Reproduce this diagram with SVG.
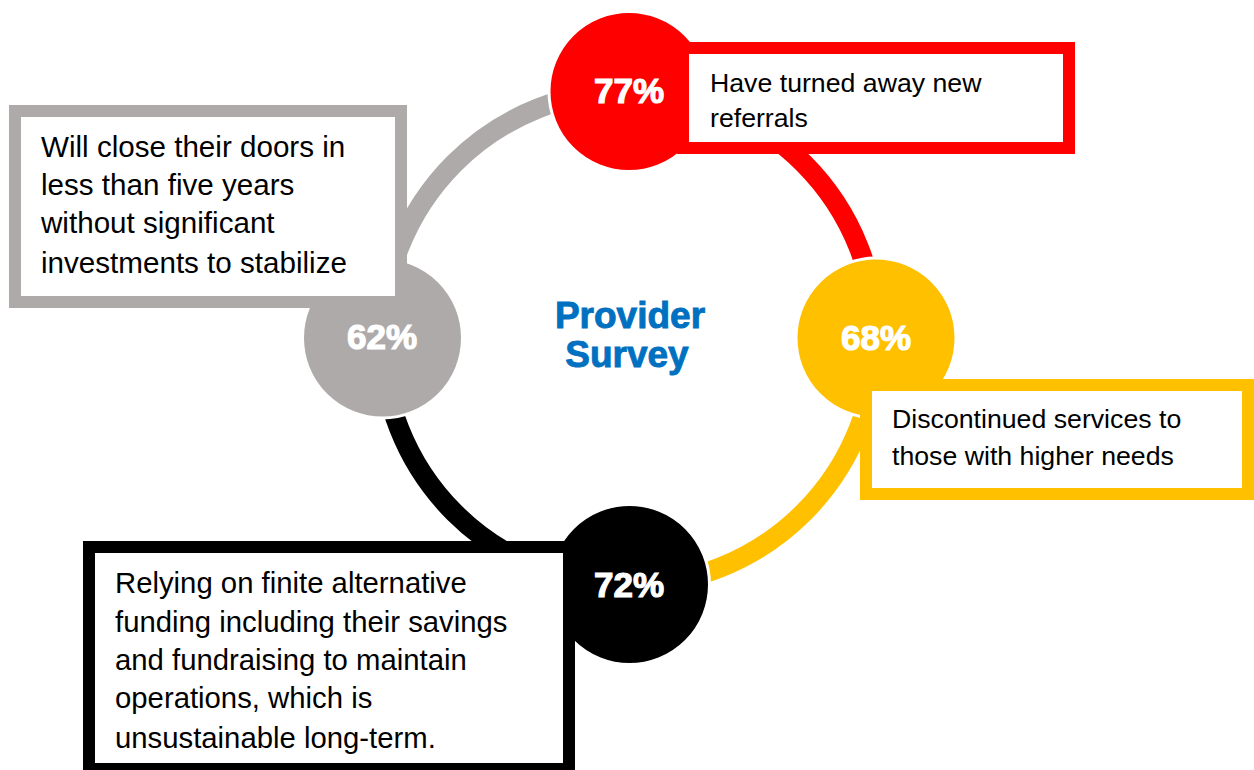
<svg xmlns="http://www.w3.org/2000/svg" width="1254" height="770" viewBox="0 0 1254 770">
<style>
.arc{fill:none;stroke-width:20}
.dot{stroke:#ffffff;stroke-width:3}
.box{fill:#ffffff;stroke-width:12}
.pct{font-family:"Liberation Sans",Arial,sans-serif;font-weight:bold;font-size:35px;fill:#ffffff;stroke:#ffffff;stroke-width:1.2;text-anchor:middle}
.lbl{font-family:"Liberation Sans",Arial,sans-serif;fill:#000000}
.title{font-family:"Liberation Sans",Arial,sans-serif;font-weight:bold;font-size:37px;fill:#0070C0;stroke:#0070C0;stroke-width:0.9;text-anchor:middle}
</style>
<rect width="1254" height="770" fill="#ffffff"/>
<g id="connectors">
<path class="arc" stroke="#AEAAAA" d="M 382 338 A 247 247 0 0 1 629 91"/>
<path class="arc" stroke="#FF0000" d="M 629 91 A 247 247 0 0 1 876 338"/>
<path class="arc" stroke="#FFC000" d="M 876 338 A 247 247 0 0 1 629 585"/>
<path class="arc" stroke="#000000" d="M 629 585 A 247 247 0 0 1 382 338"/>
</g>
<g id="node-77">
<circle class="dot" cx="629" cy="91.5" r="80" fill="#FF0000"/>
<text class="pct" x="629" y="103">77%</text>
<rect class="box" x="683" y="48" width="386" height="100" stroke="#FF0000"/>
<text class="lbl" font-size="26.7" x="710"><tspan x="710" y="92">Have turned away new</tspan><tspan x="710" y="127">referrals</tspan></text>
</g>
<g id="node-68">
<circle class="dot" cx="876" cy="338" r="80" fill="#FFC000"/>
<text class="pct" x="876" y="350">68%</text>
<rect class="box" x="866" y="385" width="382" height="109" stroke="#FFC000"/>
<text class="lbl" font-size="26.7" x="892"><tspan x="892" y="428">Discontinued services to</tspan><tspan x="892" y="465">those with higher needs</tspan></text>
</g>
<g id="node-72">
<circle class="dot" cx="629.5" cy="584.5" r="80" fill="#000000"/>
<text class="pct" x="629" y="597">72%</text>
<rect class="box" x="89" y="547" width="480" height="222" stroke="#000000"/>
<text class="lbl" font-size="29.3" x="115"><tspan x="115" y="593">Relying on finite alternative</tspan><tspan x="115" y="632">funding including their savings</tspan><tspan x="115" y="670">and fundraising to maintain</tspan><tspan x="115" y="708">operations, which is</tspan><tspan x="115" y="748">unsustainable long-term.</tspan></text>
</g>
<g id="node-62">
<circle class="dot" cx="382.5" cy="338" r="80" fill="#AEAAAA"/>
<text class="pct" x="382" y="349">62%</text>
<rect class="box" x="15" y="111" width="386" height="191" stroke="#AEAAAA"/>
<text class="lbl" font-size="29.6" x="41"><tspan x="41" y="157">Will close their doors in</tspan><tspan x="41" y="195">less than five years</tspan><tspan x="41" y="233">without significant</tspan><tspan x="41" y="273">investments to stabilize</tspan></text>
</g>
<g id="center-title">
<text class="title"><tspan x="630" y="328">Provider</tspan><tspan x="627" y="367">Survey</tspan></text>
</g>
</svg>
